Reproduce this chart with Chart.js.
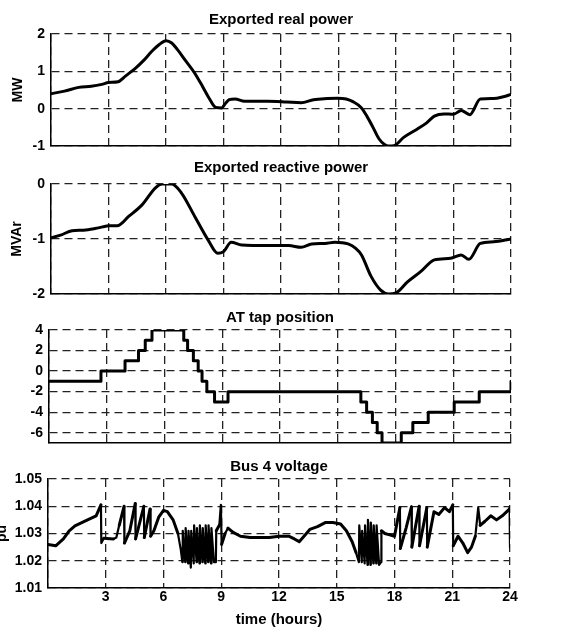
<!DOCTYPE html>
<html>
<head>
<meta charset="utf-8">
<script src="https://cdn.jsdelivr.net/npm/chart.js@4.4.1/dist/chart.umd.min.js"></script>
<style>
  html, body { margin: 0; padding: 0; background: #fff; }
  #wrap { position: relative; width: 579px; height: 633px; overflow: hidden; }
  #wrap canvas { position: absolute; left: 0; top: 0; }
</style>
</head>
<body>
<div id="wrap">
  <canvas id="real" width="579" height="633"></canvas>
  <canvas id="reactive" width="579" height="633"></canvas>
  <canvas id="tap" width="579" height="633"></canvas>
  <canvas id="volt" width="579" height="633"></canvas>
</div>
<script>
// --- data ---
const hourTicks = [0, 3, 6, 9, 12, 15, 18, 21, 24];

const realHours = [0, 0.7, 1.45, 2.1, 2.65, 3.0, 3.5, 3.9, 4.4, 4.85,
  5.25, 5.65, 6.0, 6.3, 6.6, 7.0, 7.5, 7.9, 8.25, 8.6,
  8.9, 9.1, 9.3, 9.6, 10.1, 11.3, 12.3, 13.05, 13.7, 14.4,
  14.95, 15.4, 15.75, 16.2, 16.5, 16.8, 17.1, 17.4, 17.6, 17.9,
  18.4, 19.1, 19.6, 20.0, 20.5, 21.0, 21.4, 21.85, 22.4, 23.1,
  23.6, 24];
const realMW = [0.4, 0.47, 0.57, 0.6, 0.65, 0.7, 0.72, 0.88, 1.08, 1.3,
  1.53, 1.72, 1.82, 1.76, 1.58, 1.3, 0.95, 0.6, 0.28, 0.03,
  0.02, 0.14, 0.24, 0.26, 0.2, 0.2, 0.18, 0.16, 0.24, 0.27,
  0.28, 0.26, 0.19, 0.02, -0.22, -0.5, -0.8, -0.96, -1.0, -0.99,
  -0.77, -0.55, -0.38, -0.2, -0.14, -0.15, -0.05, -0.16, 0.26, 0.27,
  0.32, 0.38];
const realTicks = [-1, 0, 1, 2];

const reactiveHours = [0, 0.5, 1.1, 1.7, 2.3, 2.7, 3.0, 3.45, 4.05, 4.75,
  5.45, 5.8, 6.3, 6.8, 7.5, 8.2, 8.7, 9.0, 9.4, 9.95,
  11.3, 12.4, 13.05, 13.6, 14.3, 14.8, 15.5, 15.9, 16.2, 16.7,
  17.2, 17.6, 18.0, 18.6, 19.3, 20.0, 20.85, 21.4, 21.8, 22.4,
  23.1, 24];
const reactiveMVAr = [-0.98, -0.93, -0.85, -0.84, -0.81, -0.78, -0.76, -0.76, -0.59, -0.38,
  -0.07, 0.0, 0.0, -0.16, -0.59, -1.02, -1.26, -1.23, -1.06, -1.11,
  -1.12, -1.12, -1.15, -1.09, -1.08, -1.06, -1.09, -1.17, -1.29, -1.68,
  -1.93, -2.0, -1.98, -1.78, -1.59, -1.38, -1.35, -1.29, -1.37, -1.08,
  -1.05, -1.0];
const reactiveTicks = [-2, -1, 0];

// hour at which the tap moves, and the new position
const tapHours = [0, 2.7, 3.95, 4.65, 5.0, 5.35, 7.0, 7.2, 7.5, 7.75,
  7.95, 8.2, 8.6, 9.3, 16.2, 16.5, 16.8, 17.05, 17.3, 18.3,
  18.9, 19.7, 21.05, 22.35, 24];
const tapPos = [-1, 0, 1, 2, 3, 4, 3, 2, 1, 0,
  -1, -2, -3, -2, -3, -4, -5, -6, -7, -6,
  -5, -4, -3, -2, -1];
const tapTicks = [-6, -4, -2, 0, 2, 4];

const voltHours = [0, 0.4, 0.8, 1.1, 1.4, 2.0, 2.5, 2.75, 2.77, 2.9,
  3.4, 3.55, 3.7, 3.95, 3.97, 4.25, 4.53, 4.55, 4.98, 5.0,
  5.3, 5.33, 5.5, 5.75, 6.0, 6.2, 6.5, 6.75, 6.9, 6.98,
  7.0, 7.13, 7.15, 7.28, 7.3, 7.42, 7.44, 7.57, 7.59, 7.72,
  7.74, 7.87, 7.89, 8.02, 8.04, 8.17, 8.19, 8.32, 8.34, 8.47,
  8.49, 8.62, 8.72, 8.74, 8.9, 8.98, 9.02, 9.2, 9.35, 9.6,
  10.0, 10.5, 11.0, 11.5, 12.0, 12.5, 12.8, 13.05, 13.3, 13.6,
  14.0, 14.4, 14.8, 15.2, 15.5, 15.8, 16.0, 16.15, 16.17, 16.3,
  16.32, 16.45, 16.47, 16.6, 16.62, 16.75, 16.77, 16.9, 16.92, 17.05,
  17.07, 17.2, 17.3, 17.32, 17.5, 17.75, 18.0, 18.28, 18.3, 18.6,
  18.88, 18.9, 19.28, 19.3, 19.68, 19.7, 20.05, 20.3, 20.6, 20.85,
  21.03, 21.05, 21.3, 21.55, 21.8, 22.0, 22.2, 22.35, 22.45, 22.7,
  23.0, 23.3, 23.6, 23.9, 23.98, 24.0];
const voltPu = [1.026, 1.0255, 1.028, 1.031, 1.0328, 1.0348, 1.0365, 1.0405, 1.0265, 1.0283,
  1.028, 1.0285, 1.033, 1.040, 1.0265, 1.031, 1.041, 1.028, 1.040, 1.0285,
  1.039, 1.029, 1.031, 1.036, 1.0385, 1.038, 1.035, 1.030, 1.024, 1.0195,
  1.031, 1.0195, 1.032, 1.019, 1.031, 1.0175, 1.031, 1.019, 1.033, 1.0195,
  1.032, 1.019, 1.033, 1.0195, 1.032, 1.019, 1.033, 1.0195, 1.033, 1.019,
  1.032, 1.0195, 1.0195, 1.031, 1.033, 1.0405, 1.026, 1.03, 1.032, 1.0305,
  1.029, 1.0285, 1.0285, 1.0285, 1.029, 1.029, 1.028, 1.027, 1.029, 1.0315,
  1.0325, 1.034, 1.034, 1.0335, 1.031, 1.027, 1.023, 1.0195, 1.033, 1.0195,
  1.031, 1.019, 1.033, 1.0185, 1.035, 1.0185, 1.034, 1.019, 1.033, 1.019,
  1.033, 1.0185, 1.0195, 1.031, 1.03, 1.0295, 1.029, 1.0395, 1.0245, 1.032,
  1.0398, 1.025, 1.04, 1.0255, 1.0395, 1.025, 1.038, 1.037, 1.0395, 1.038,
  1.0405, 1.0255, 1.029, 1.0265, 1.023, 1.025, 1.029, 1.0395, 1.033, 1.0345,
  1.0365, 1.035, 1.0365, 1.0385, 1.0395, 1.025];
const voltTicks = [1.01, 1.02, 1.03, 1.04, 1.05];

// --- drawing ---
const W = 579, H = 633;
const FAMILY = "'Liberation Sans', Arial, Helvetica, sans-serif";
const FONT = { family: FAMILY, size: 14, weight: 'bold' };
const TITLE_FONT = { family: FAMILY, size: 15, weight: 'bold' };
const HALF_LINE = 8.4;   // 14px * 1.2 / 2
const TITLE_HALF = 9;    // 15px * 1.2 / 2

function toPoints(xs, ys) {
  return xs.map((x, i) => ({ x: x, y: ys[i] }));
}

function fixTicks(values) {
  return scale => { scale.ticks = values.map(v => ({ value: v })); };
}

// box = [left, right, top, bottom] of the plot area in page pixels
function panel(id, o) {
  const xH = o.showX ? 45 : 0;
  new Chart(document.getElementById(id), {
    type: 'line',
    data: {
      datasets: [{
        data: toPoints(o.xs, o.ys),
        borderColor: '#000',
        borderWidth: 3,
        borderJoinStyle: 'round',
        borderCapStyle: 'round',
        pointRadius: 0,
        stepped: o.stepped || false,
        tension: o.smooth ? 0.4 : 0,
        cubicInterpolationMode: o.smooth ? 'monotone' : 'default',
        fill: false,
        // near-vertical jumps of the tap changers are drawn a bit thinner
        segment: o.thinJumps ? {
          borderWidth: ctx => Math.abs(ctx.p1.x - ctx.p0.x) < 3 ? 2.2 : undefined
        } : undefined
      }]
    },
    options: {
      responsive: false,
      animation: false,
      layout: {
        padding: { left: 0, right: W - o.box[1], top: o.titleY - TITLE_HALF, bottom: H - o.box[3] - xH }
      },
      plugins: {
        legend: { display: false },
        tooltip: { enabled: false },
        title: {
          display: true, text: o.title, color: '#000', font: TITLE_FONT, fullSize: false,
          padding: { top: 0, bottom: o.box[2] - o.titleY - TITLE_HALF }
        }
      },
      scales: {
        x: {
          type: 'linear', min: 0, max: 24,
          afterBuildTicks: fixTicks(hourTicks),
          afterFit: s => { s.height = xH; },
          grid: { color: '#222', lineWidth: 1.3, drawTicks: false },
          border: { display: true, color: '#000', width: 1.5, dash: [8, 5] },
          ticks: {
            display: !!o.showX, color: '#000', font: FONT, padding: 1, maxRotation: 0,
            callback: v => v === 0 ? '' : v
          },
          title: {
            display: !!o.showX, text: 'time (hours)', color: '#000', font: TITLE_FONT,
            padding: { top: 0, bottom: 4 }
          }
        },
        y: {
          min: o.yMin, max: o.yMax,
          afterBuildTicks: fixTicks(o.yTicks),
          afterFit: s => { s.width = o.box[0]; },
          grid: { color: '#222', lineWidth: 1.3, drawTicks: false },
          border: { display: true, color: '#000', width: 1.5, dash: [8, 5] },
          ticks: { color: '#000', font: FONT, padding: 6, callback: o.fmt || (v => v) },
          title: {
            display: !!o.yTitle, text: o.yTitle, color: '#000', font: FONT,
            padding: { top: o.yTitleX - HALF_LINE, bottom: 0 }
          }
        }
      }
    }
  });
}

panel('real', {
  title: 'Exported real power', titleY: 20, box: [51, 511, 34, 146],
  xs: realHours, ys: realMW, yMin: -1, yMax: 2, yTicks: realTicks,
  yTitle: 'MW', yTitleX: 18, smooth: true
});
panel('reactive', {
  title: 'Exported reactive power', titleY: 168, box: [51, 511, 184, 294],
  xs: reactiveHours, ys: reactiveMVAr, yMin: -2, yMax: 0, yTicks: reactiveTicks,
  yTitle: 'MVAr', yTitleX: 17, smooth: true
});
panel('tap', {
  title: 'AT tap position', titleY: 318, box: [49, 511, 330, 443],
  xs: tapHours, ys: tapPos, yMin: -7, yMax: 4, yTicks: tapTicks, stepped: 'before'
});
panel('volt', {
  title: 'Bus 4 voltage', titleY: 467, box: [48, 510, 479, 588],
  xs: voltHours, ys: voltPu, yMin: 1.01, yMax: 1.05, yTicks: voltTicks,
  yTitle: 'pu', yTitleX: 2, showX: true, thinJumps: true, fmt: v => v.toFixed(2)
});
</script>
</body>
</html>
